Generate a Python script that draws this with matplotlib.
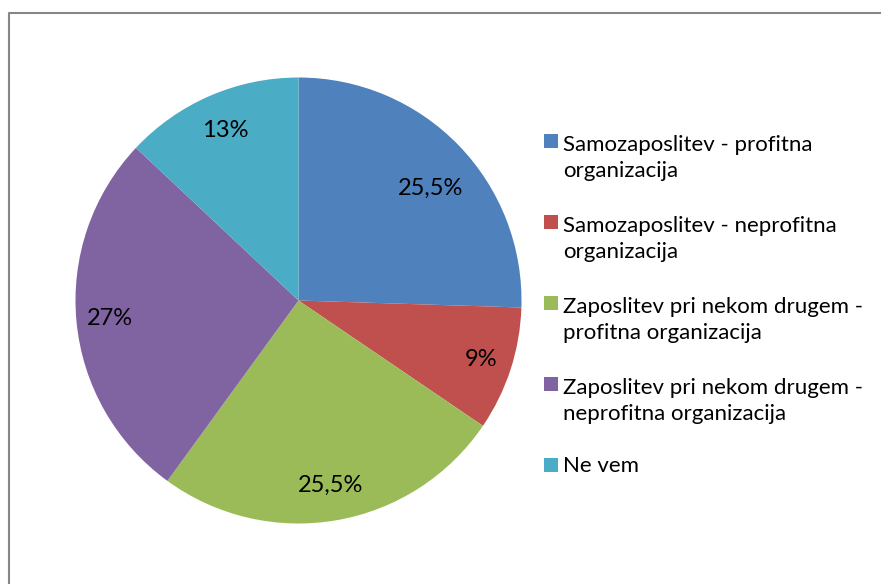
import matplotlib
matplotlib.use("Agg")
import matplotlib.pyplot as plt
import numpy as np
from matplotlib.patches import Rectangle
from matplotlib.lines import Line2D

categories = [
    "Samozaposlitev - profitna\norganizacija",
    "Samozaposlitev - neprofitna\norganizacija",
    "Zaposlitev pri nekom drugem -\nprofitna organizacija",
    "Zaposlitev pri nekom drugem -\nneprofitna organizacija",
    "Ne vem",
]
values = [25.5, 9, 25.5, 27, 13]
value_labels = ["25,5%", "9%", "25,5%", "27%", "13%"]
colors = ["#4F81BD", "#C0504D", "#9BBB59", "#8064A2", "#4BACC6"]

# label placement style (radius fraction, angle tweak in degrees)
label_dist = [0.776, 0.86, 0.84, 0.85, 0.83]
label_dang = [-3.8, 0, 0, 0, 0]

plt.rcParams['font.family'] = ['Lato', 'DejaVu Sans']

W, H = 881, 584
fig = plt.figure(figsize=(W / 100, H / 100), dpi=100)

cx, cy, r = 298.5, 300.5, 223
ax = fig.add_axes([(cx - r) / W, (H - cy - r) / H, 2 * r / W, 2 * r / H])
wedges, _ = ax.pie(values, colors=colors, startangle=90, counterclock=False,
                   radius=1, wedgeprops=dict(linewidth=0))
ax.set_xlim(-1, 1)
ax.set_ylim(-1, 1)
ax.set_aspect('equal')
ax.axis('off')

for w, lab, d, da in zip(wedges, value_labels, label_dist, label_dang):
    ang = np.deg2rad((w.theta1 + w.theta2) / 2 + da)
    ax.text(d * np.cos(ang), d * np.sin(ang), lab, ha='center', va='center',
            fontsize=17, color='#000000')

# legend (drawn in figure pixel coordinates)
def fx(px):
    return px / W

def fy(py):
    return 1 - py / H

pitch = 29
for i, (cat, col) in enumerate(zip(categories, colors)):
    base = 148 + 81 * i
    nlines = cat.count("\n") + 1
    fig.add_artist(Rectangle((fx(544), fy(base)), 14 / W, 14 / H,
                             transform=fig.transFigure, facecolor=col,
                             edgecolor='none'))
    fig.text(fx(563), fy(base + pitch * (nlines - 1)), cat, ha='left',
             va='baseline', fontsize=16, color='#000000', linespacing=1.4)

# figure border
fig.add_artist(Line2D([9 / W, 9 / W, 1], [0, 1 - 13 / H, 1 - 13 / H],
                      transform=fig.transFigure, color='#868686', linewidth=1.5))

fig.savefig("out.png", dpi=100)
